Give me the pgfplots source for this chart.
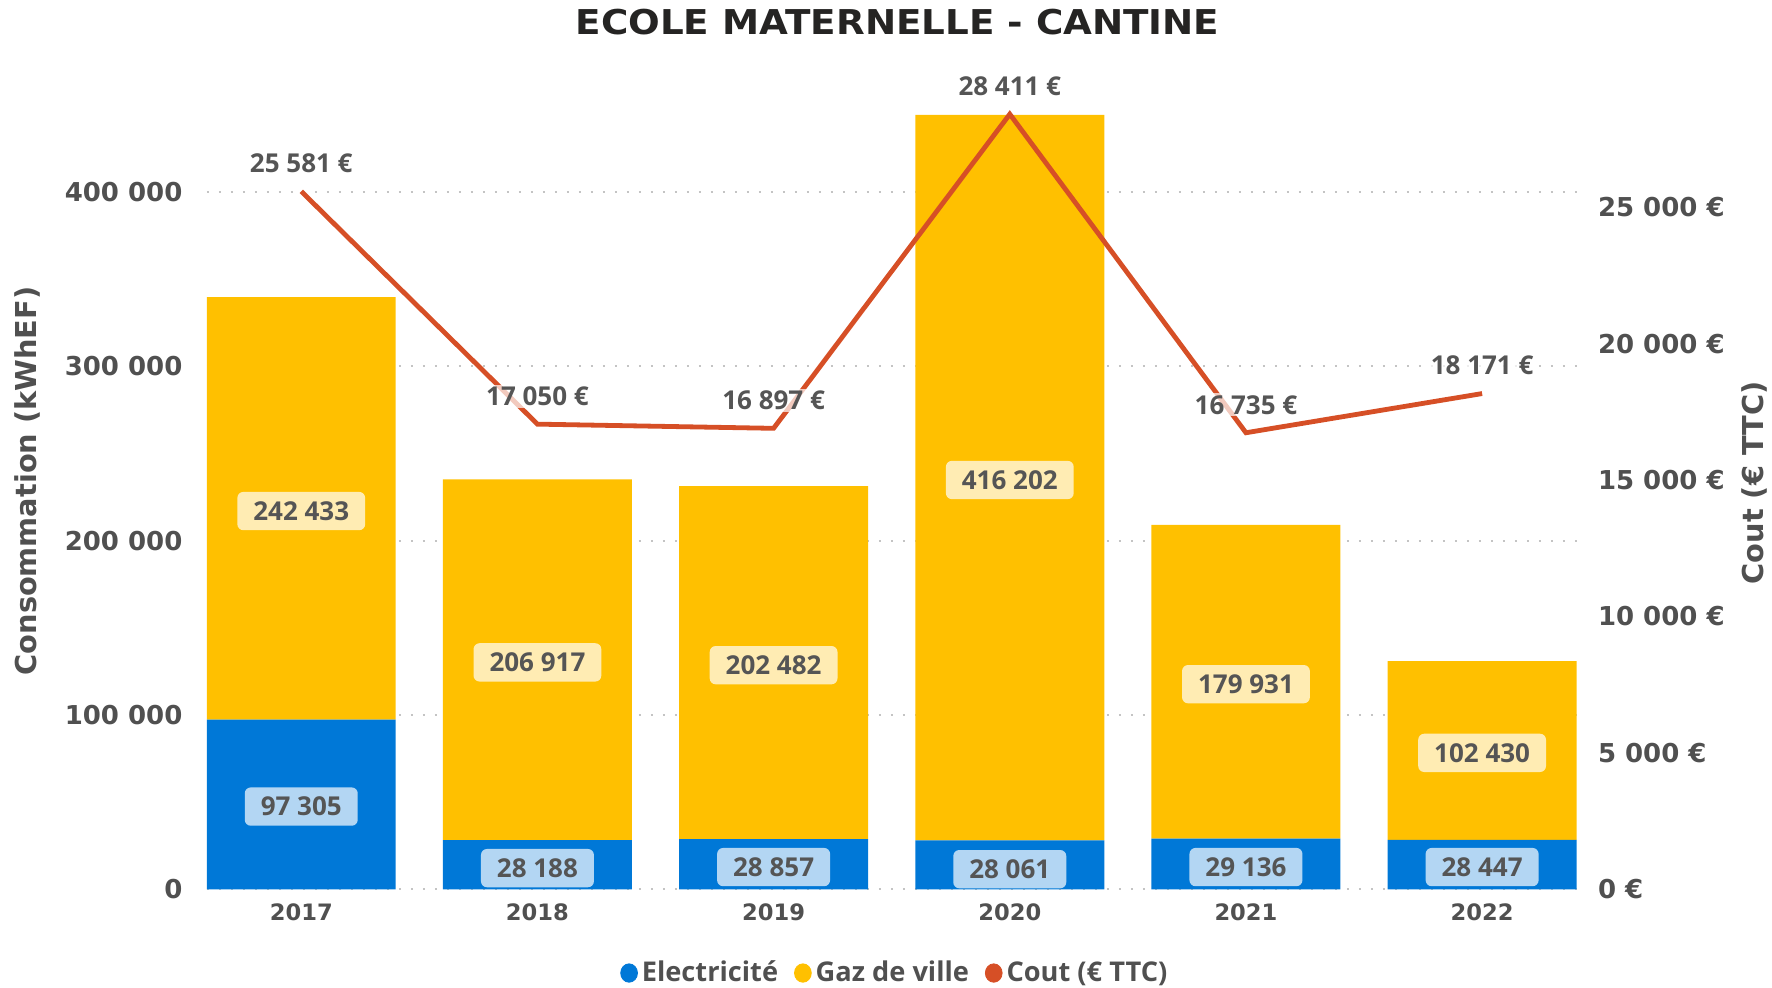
\documentclass[border=0pt]{standalone}
\usepackage{fontspec}
\usepackage{graphicx}
\usepackage{pgfplots}
\pgfplotsset{compat=1.18}
\setmainfont{Open Sans}
\newfontfamily\dv{DejaVu Sans}
\definecolor{elec}{HTML}{0078D7}
\definecolor{gaz}{HTML}{FFC000}
\definecolor{cout}{HTML}{D64F26}
\definecolor{tick}{HTML}{505050}
\definecolor{titlec}{HTML}{252423}
\definecolor{lab}{HTML}{555555}
\definecolor{gridc}{HTML}{C4C4C4}
\begin{document}
\begin{tikzpicture}
\useasboundingbox (-103.4pt,-49.3pt) rectangle (782.6pt,444.7pt);
\pgfplotsset{base/.style={
  at={(0pt,0pt)}, anchor=south west,
  width=684.9pt, height=392.3pt, scale only axis,
  xmin=-0.4, xmax=5.4, enlargelimits=false,
  axis line style={draw=none}, major tick length=0pt,
  xtick={0,1,2,3,4,5}, scaled y ticks=false, scaled x ticks=false,
}}
% bars
\begin{axis}[base, ymin=0, ymax=450000, ybar stacked, bar width=0.8,
  ymajorgrids, grid style={gridc, line width=1pt, dash pattern=on 1pt off 5pt},
  ytick={0,100000,200000,300000,400000},
  yticklabels={0,100 000,200 000,300 000,400 000},
  yticklabel style={font=\dv\bfseries\fontsize{13}{13}\selectfont, text=tick, inner sep=0pt, anchor=east, xshift=-12pt},
  xticklabels={2017,2018,2019,2020,2021,2022},
  xticklabel style={font=\dv\bfseries\fontsize{11.3}{11.3}\selectfont, text=tick, inner sep=0pt, anchor=north, yshift=-7.2pt}]
\addplot[fill=elec, draw=none] coordinates {(0,97305) (1,28188) (2,28857) (3,28061) (4,29136) (5,28447)};
\addplot[fill=gaz, draw=none] coordinates {(0,242433) (1,206917) (2,202482) (3,416202) (4,179931) (5,102430)};
\end{axis}
% bar labels
\begin{axis}[base, ymin=0, ymax=450000, hide axis, clip=false]
\addplot[draw=none, mark=none, nodes near coords, point meta=explicit symbolic,
  every node near coord/.style={font=\bfseries\fontsize{13}{13}\selectfont, text=lab, fill=white, fill opacity=0.7, text opacity=1, rounded corners=3pt, inner xsep=8pt, inner ysep=4.8pt, anchor=center}]
  coordinates {(0,47500) [97 305] (1,12200) [28 188] (2,12800) [28 857] (3,11600) [28 061] (4,12800) [29 136] (5,12800) [28 447]};
\addplot[draw=none, mark=none, nodes near coords, point meta=explicit symbolic,
  every node near coord/.style={font=\bfseries\fontsize{13}{13}\selectfont, text=lab, fill=white, fill opacity=0.7, text opacity=1, rounded corners=3pt, inner xsep=8pt, inner ysep=4.8pt, anchor=center}]
  coordinates {(0,217000) [242 433] (1,130200) [206 917] (2,128600) [202 482] (3,234800) [416 202] (4,117700) [179 931] (5,78300) [102 430]};
\end{axis}
% cost line
\begin{axis}[base, ymin=0, ymax=28754, clip=false,
  hide x axis, axis y line*=right,
  ytick={0,5000,10000,15000,20000,25000},
  yticklabels={0 €,5 000 €,10 000 €,15 000 €,20 000 €,25 000 €},
  yticklabel style={font=\dv\bfseries\fontsize{13}{13}\selectfont, text=tick, inner sep=0pt, anchor=west, xshift=10.5pt},
  legend style={at={(0.503,-0.1066)}, anchor=center, draw=none, fill=none, legend columns=3,
    font=\bfseries\fontsize{13.6}{13.6}\selectfont, text=tick,
    /tikz/every even column/.append style={column sep=6pt}},
  legend cell align=left,
  legend image code/.code={\fill[#1] (4pt,0pt) ellipse (4.2pt and 4.6pt);}]
\addlegendimage{elec}
\addlegendentry{Electricité}
\addlegendimage{gaz}
\addlegendentry{Gaz de ville}
\addlegendimage{cout}
\addlegendentry{Cout (€ TTC)}
\addplot[cout, line width=2.4pt, mark=none, forget plot, nodes near coords, point meta=explicit symbolic,
  every node near coord/.style={font=\bfseries\fontsize{13}{13}\selectfont, text=lab, fill=white, fill opacity=0.7, text opacity=1, inner xsep=2pt, inner ysep=1pt, anchor=center, yshift=14pt}]
  coordinates {(0,25581) [25 581 €] (1,17050) [17 050 €] (2,16897) [16 897 €] (3,28411) [28 411 €] (4,16735) [16 735 €] (5,18171) [18 171 €]};
\end{axis}
\node[font=\dv\bfseries\fontsize{17.1}{17.1}\selectfont, text=titlec] at (345.4pt,433.5pt) {\scalebox{1.09}[1]{ECOLE MATERNELLE - CANTINE}};
\node[rotate=90, font=\dv\bfseries\fontsize{14.4}{14.4}\selectfont, text=tick] at (-89.5pt,204.2pt) {Consommation (kWhEF)};
\node[rotate=90, font=\dv\bfseries\fontsize{14.4}{14.4}\selectfont, text=tick] at (773.6pt,203.2pt) {Cout (€ TTC)};
\end{tikzpicture}
\end{document}
